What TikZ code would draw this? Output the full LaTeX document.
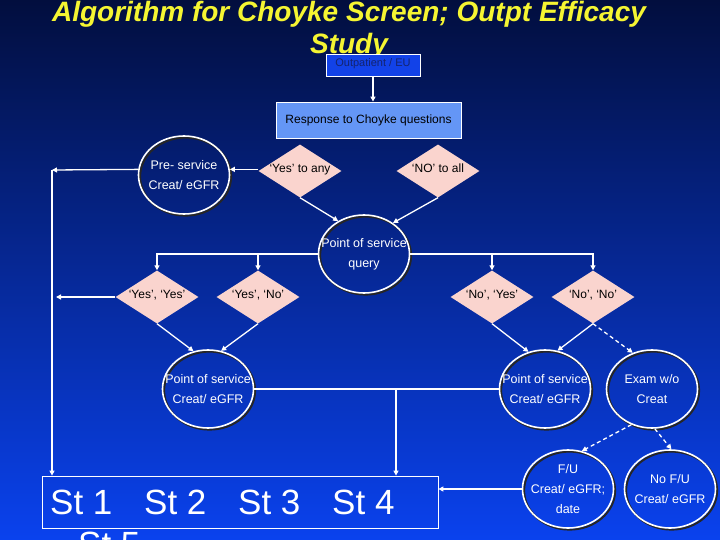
\documentclass[tikz,border=0pt]{standalone}
\usepackage{fontspec}
\setmainfont{Liberation Sans}
\usetikzlibrary{shapes.geometric,arrows.meta}
\definecolor{bgtop}{RGB}{2,14,62}
\definecolor{bgmid}{RGB}{2,40,168}
\definecolor{bgbot}{RGB}{10,66,238}
\definecolor{titley}{RGB}{245,245,50}
\definecolor{pinkc}{RGB}{250,212,206}
\definecolor{boxdark}{RGB}{18,66,232}
\definecolor{boxlight}{RGB}{100,150,246}
\definecolor{navytext}{RGB}{20,36,110}
\tikzset{
  conn/.style={draw=white, line width=1.3pt, -{Triangle[width=5pt,length=5pt]}},
  dconn/.style={conn, dash pattern=on 4pt off 3pt},
  plain/.style={draw=white, line width=1.3pt},
  oval/.style={ellipse, draw=white, line width=1.6pt, minimum width=91pt, minimum height=78pt, inner sep=0pt,
    preaction={draw=black!85, line width=2pt, transform canvas={shift={(1.6pt,-1.6pt)}}}},
  ovtext/.style={font=\fontsize{12.5}{20}\selectfont, text=white, align=center, inner sep=0pt},
  dia/.style={diamond, fill=pinkc, aspect=1.6, inner sep=-3pt, minimum width=83pt, minimum height=53pt,
    font=\fontsize{12}{14}\selectfont, text=black, text height=7pt, text depth=4.5pt},
  sqbox/.style={rectangle, draw=white, line width=0.8pt, inner sep=0pt}
}
\begin{document}
\begin{tikzpicture}[x=1pt,y=-1pt]
\useasboundingbox (0,0) rectangle (720,540);
\clip (0,0) rectangle (720,540);
\fill[top color=bgtop, middle color=bgmid, bottom color=bgbot] (0,0) rectangle (720,540);

% title
\node[font=\fontsize{28}{32}\selectfont\bfseries\itshape, text=titley, align=center, inner sep=0pt] (title) at (349,30.5)
  {Algorithm for Choyke Screen; Outpt Efficacy\\Study};

% boxes
\node[sqbox, fill=boxdark, minimum width=94pt, minimum height=22pt, font=\fontsize{11}{13}\selectfont, text=navytext, text height=7pt, text depth=3pt] (out) at (373,65) {Outpatient / EU};
\node[sqbox, fill=boxlight, minimum width=185pt, minimum height=36pt, font=\fontsize{12}{14}\selectfont, text=black] (resp) at (368.5,120) {Response to Choyke questions};

% ovals
\node[oval, label={[ovtext]center:Pre- service\\Creat/ eGFR}] (pre) at (184,175) {};
\node[oval, label={[ovtext]center:Point of service\\query}] (posq) at (364,254) {};
\node[oval, label={[ovtext]center:Point of service\\Creat/ eGFR}] (posl) at (208,389) {};
\node[oval, label={[ovtext]center:Point of service\\Creat/ eGFR}] (posr) at (545,389) {};
\node[oval, label={[ovtext]center:Exam w/o\\Creat}] (exam) at (652,389) {};
\node[oval, label={[ovtext]center:F/U\\Creat/ eGFR;\\date}] (fu) at (568,489) {};
\node[oval, label={[ovtext]center:No F/U\\Creat/ eGFR}] (nofu) at (670,489) {};

% diamonds
\node[dia] (yesany) at (300,171) {‘Yes’ to any};
\node[dia] (noall) at (438,171) {‘NO’ to all};
\node[dia] (yy) at (157,297) {‘Yes’, ‘Yes’};
\node[dia] (yn) at (258,297) {‘Yes’, ‘No’};
\node[dia] (ny) at (492,297) {‘No’, ‘Yes’};
\node[dia] (nn) at (593,297) {‘No’, ‘No’};

% stage box
\node[sqbox, minimum width=396pt, minimum height=52pt] (st) at (240,502) {};
\node[anchor=north west, inner sep=0pt, align=left, text=white, font=\fontsize{35}{42}\selectfont] (sttext) at (50,490)
  {\makebox[94pt][l]{St 1}\makebox[94pt][l]{St 2}\makebox[94pt][l]{St 3}St 4\\\hspace*{28pt}St 5};

% coordinates
\coordinate (l1) at (52,170);
\coordinate (l3) at (56,297);
\coordinate (br) at (396,389);

% connectors
\draw[conn] (out.south) -- (out.south |- resp.north);
\draw[conn] (yesany.west |- pre.7) -- (pre.7);
\draw[conn] (pre.173) -- (l1);
\draw[conn] (l1) -- (l1 |- st.north);
\draw[conn] (yy.west) -- (l3);
\draw[conn] (yesany.south) -- (posq.128);
\draw[conn] (noall.south) -- (posq.47);
\draw[conn] (posq.west) -| (yy.north);
\draw[conn] (posq.west) -| (yn.north);
\draw[conn] (posq.east) -| (ny.north);
\draw[conn] (posq.east) -| (nn.north);
\draw[conn] (yy.south) -- (posl.111);
\draw[conn] (yn.south) -- (posl.71);
\draw[conn] (ny.south) -- (posr.114);
\draw[conn] (nn.south) -- (posr.72);
\draw[dconn] (nn.south) -- (exam.118);
\draw[plain] (posl.east) -- (posr.west);
\draw[conn] (br) -- (br |- st.north);
\draw[dconn] (exam.240) -- (fu.70);
\draw[dconn] (exam.274) -- (nofu.88);
\draw[conn] (fu.west) -- (fu.west -| st.east);
\end{tikzpicture}
\end{document}
